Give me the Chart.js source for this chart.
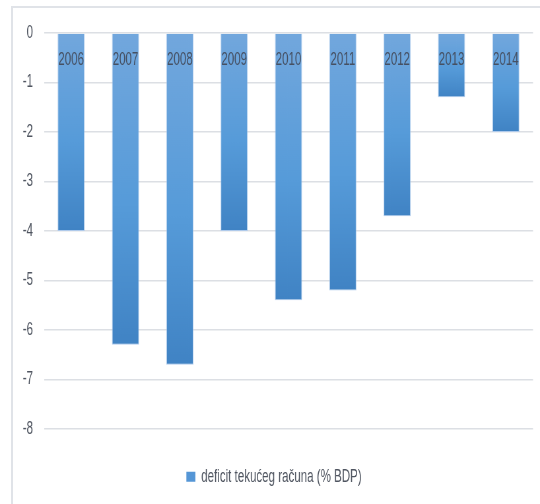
<!DOCTYPE html>
<html>
<head>
<meta charset="utf-8">
<script src="https://cdn.jsdelivr.net/npm/chart.js@4/dist/chart.umd.min.js"></script>
<style>
  html, body { margin: 0; padding: 0; background: #fff; }
  body { width: 540px; height: 504px; overflow: hidden; position: relative; }
  /* okvir grafikona */
  .okvir {
    position: absolute; left: 11px; top: 6px; width: 600px; height: 600px;
    border-left: 2px solid #e0e3e8; border-top: 2px solid #e0e3e8;
  }
  /* platno je sire pa se stisne vodoravno (uski font kao u originalu) */
  .stisni {
    position: absolute; left: 0; top: 0; width: 818px; height: 504px;
    transform: scaleX(0.66015); transform-origin: 0 0;
  }
</style>
</head>
<body>
<div class="okvir"></div>
<div class="stisni"><canvas id="grafikon"></canvas></div>
<script>
// === PODACI ===
const godine = ['2006', '2007', '2008', '2009', '2010', '2011', '2012', '2013', '2014'];
const deficit = [-4.0, -6.3, -6.7, -4.0, -5.4, -5.2, -3.7, -1.3, -2.0];
const nazivSerije = 'deficit tekućeg računa (% BDP)';
const yMin = -8;
const yMax = 0;
const yKorak = 1;

// faktor stiskanja (stvarni px -> logicki px po x osi)
const S = 540 / 818;
const R = v => v / S;

const FONT = "'Liberation Sans', Arial, sans-serif";
const bojaLegende = '#5596d6';
const bojaTeksta = '#4f5560';

// gradijent za svaki stupac posebno (svijetlo gore, tamnije dolje)
function bojaStupca(ctx) {
    const chart = ctx.chart;
    const y = chart.scales.y;
    if (!y || ctx.dataIndex === undefined) return bojaLegende;
    const vrh = y.getPixelForValue(0);
    const dno = y.getPixelForValue(deficit[ctx.dataIndex]);
    if (!isFinite(vrh) || !isFinite(dno) || dno <= vrh) return bojaLegende;
    const g = chart.ctx.createLinearGradient(0, vrh, 0, dno);
    g.addColorStop(0, '#72a7dd');
    g.addColorStop(0.55, '#569bd9');
    g.addColorStop(1, '#4083c4');
    return g;
}

// oznake godina unutar stupaca, odmah ispod nule
const oznakeGodina = {
    id: 'oznakeGodina',
    afterDatasetsDraw(chart) {
        const {ctx, scales: {x, y}} = chart;
        const yPoz = y.getPixelForValue(0) + 27;
        ctx.save();
        ctx.font = '17.5px ' + FONT;
        ctx.fillStyle = '#465062';
        ctx.textAlign = 'center';
        ctx.textBaseline = 'middle';
        godine.forEach((g, i) => ctx.fillText(g, x.getPixelForValue(i), yPoz));
        ctx.restore();
    }
};

new Chart(document.getElementById('grafikon'), {
    type: 'bar',
    data: {
        labels: godine,
        datasets: [{
            label: nazivSerije,
            data: deficit,
            backgroundColor: bojaStupca,
            borderColor: 'rgba(170, 200, 235, 0.9)',
            borderWidth: 1,
            categoryPercentage: 1,
            barPercentage: 0.5
        }]
    },
    options: {
        responsive: true,
        maintainAspectRatio: false,
        animation: false,
        layout: { padding: { left: 22.8, right: 10.6, top: 33, bottom: 8.5 } },
        plugins: {
            tooltip: { enabled: false },
            legend: {
                position: 'bottom',
                labels: {
                    font: { family: FONT, size: 17.5 },
                    color: bojaTeksta,
                    boxWidth: R(9),
                    boxHeight: 10,
                    padding: 39,
                    generateLabels: chart => chart.data.datasets.map((ds, i) => ({
                        text: ds.label,
                        fillStyle: bojaLegende,
                        strokeStyle: bojaLegende,
                        lineWidth: 0,
                        hidden: false,
                        datasetIndex: i,
                        fontColor: bojaTeksta
                    }))
                }
            }
        },
        scales: {
            x: { display: false },
            y: {
                min: yMin,
                max: yMax,
                ticks: {
                    stepSize: yKorak,
                    padding: R(11),
                    color: bojaTeksta,
                    font: { family: FONT, size: 17.5 }
                },
                grid: { color: '#dcdfe4', lineWidth: 1.5, drawTicks: false },
                border: { display: false },
                afterFit(scale) { scale.width = R(44) - 22.8; }
            }
        }
    },
    plugins: [oznakeGodina]
});
</script>
</body>
</html>
